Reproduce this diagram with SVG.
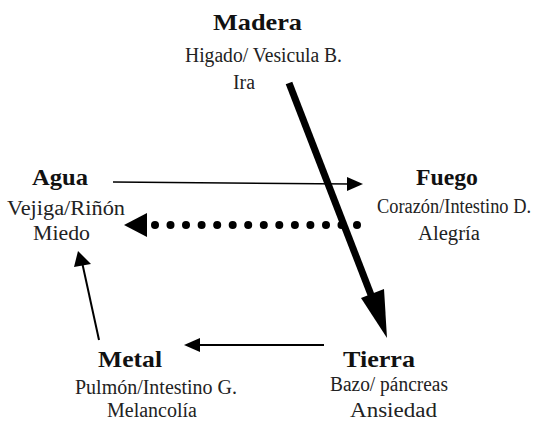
<svg xmlns="http://www.w3.org/2000/svg" width="544" height="427" viewBox="0 0 544 427">
  <defs>
    <style>
      .title { font-family: "Liberation Serif", "Times New Roman", serif; font-weight: bold; font-size: 23px; fill: #111; }
      .sub { font-family: "Liberation Serif", "Times New Roman", serif; font-size: 20.5px; fill: #222; }
      .ln { stroke: #000; fill: none; }
      .head { fill: #000; stroke: none; }
    </style>
  </defs>
  <rect width="544" height="427" fill="#fff"/>

  <g id="madera">
    <text class="title" x="213" y="30" textLength="89" lengthAdjust="spacingAndGlyphs">Madera</text>
    <text class="sub" x="185" y="62" textLength="157" lengthAdjust="spacingAndGlyphs">Higado/ Vesicula B.</text>
    <text class="sub" x="233" y="89" textLength="22" lengthAdjust="spacingAndGlyphs">Ira</text>
  </g>

  <g id="agua">
    <text class="title" x="32" y="185" textLength="56" lengthAdjust="spacingAndGlyphs">Agua</text>
    <text class="sub" x="7" y="215" textLength="118" lengthAdjust="spacingAndGlyphs">Vejiga/Riñón</text>
    <text class="sub" x="33" y="240" textLength="57" lengthAdjust="spacingAndGlyphs">Miedo</text>
  </g>

  <g id="fuego">
    <text class="title" x="416" y="185" textLength="62" lengthAdjust="spacingAndGlyphs">Fuego</text>
    <text class="sub" x="377" y="213" font-size="19" textLength="154" lengthAdjust="spacingAndGlyphs">Corazón/Intestino D.</text>
    <text class="sub" x="418" y="240" textLength="62" lengthAdjust="spacingAndGlyphs">Alegría</text>
  </g>

  <g id="metal">
    <text class="title" x="98" y="367" textLength="64" lengthAdjust="spacingAndGlyphs">Metal</text>
    <text class="sub" x="75" y="394" textLength="162" lengthAdjust="spacingAndGlyphs">Pulmón/Intestino G.</text>
    <text class="sub" x="107" y="417" textLength="90" lengthAdjust="spacingAndGlyphs">Melancolía</text>
  </g>

  <g id="tierra">
    <text class="title" x="343" y="367" textLength="72" lengthAdjust="spacingAndGlyphs">Tierra</text>
    <text class="sub" x="330" y="391" textLength="118" lengthAdjust="spacingAndGlyphs">Bazo/ páncreas</text>
    <text class="sub" x="350" y="417" textLength="87" lengthAdjust="spacingAndGlyphs">Ansiedad</text>
  </g>

  <g id="connectors">
    <!-- Madera to Tierra: heavy arrow -->
    <line class="ln" x1="289" y1="83" x2="373" y2="300" stroke-width="7"/>
    <polygon class="head" points="387,338 361,298 384,289"/>

    <!-- Agua to Fuego -->
    <line class="ln" x1="113" y1="182" x2="350" y2="184" stroke-width="1.6"/>
    <polygon class="head" points="363,184 347,177 347,191"/>

    <!-- Fuego to Agua: dotted -->
    <g class="head">
      <circle cx="155" cy="225" r="4"/>
      <circle cx="170.5" cy="225" r="4"/>
      <circle cx="186" cy="225" r="4"/>
      <circle cx="201.6" cy="225" r="4"/>
      <circle cx="217.2" cy="225" r="4"/>
      <circle cx="232.7" cy="225" r="4"/>
      <circle cx="248.2" cy="225" r="4"/>
      <circle cx="263.8" cy="225" r="4"/>
      <circle cx="279.3" cy="225" r="4"/>
      <circle cx="294.9" cy="225" r="4"/>
      <circle cx="310.4" cy="225" r="4"/>
      <circle cx="326" cy="225" r="4"/>
      <circle cx="341.5" cy="225" r="4"/>
      <circle cx="357" cy="225" r="4"/>
    </g>
    <polygon class="head" points="124,225 147,213 147,237"/>

    <!-- Tierra to Metal -->
    <line class="ln" x1="324" y1="345" x2="196" y2="345" stroke-width="2"/>
    <polygon class="head" points="184,345 200,338 200,352"/>

    <!-- Metal to Agua -->
    <line class="ln" x1="99" y1="340" x2="82" y2="262" stroke-width="2"/>
    <polygon class="head" points="78,251 74,267 91,264"/>
  </g>
</svg>
